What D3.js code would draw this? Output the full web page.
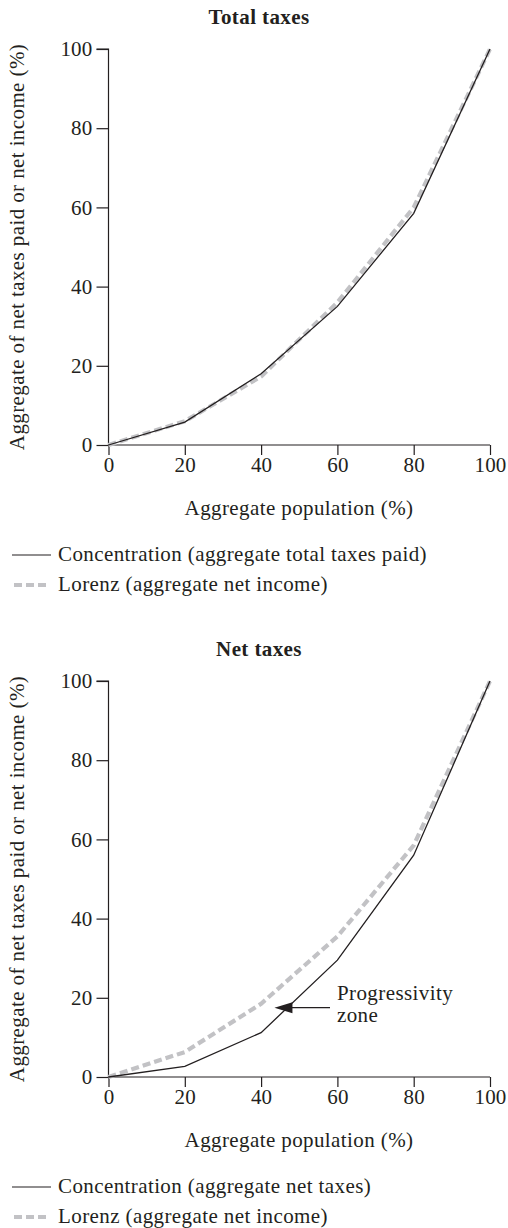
<!DOCTYPE html>
<html>
<head>
<meta charset="utf-8">
<script src="https://cdn.jsdelivr.net/npm/d3@7/dist/d3.min.js"></script>
<style>
  html, body { margin: 0; padding: 0; background: #fff; }
</style>
</head>
<body>
<svg id="chart" width="508" height="1228"></svg>
<script>
// ---- data ----
const population = [0, 20, 40, 60, 80, 100];
const totalConcentration = [0, 5.8, 18, 35, 58.5, 100];
const totalLorenz = [0, 6, 17.3, 36, 60, 100];
const netConcentration = [0, 2.7, 11.2, 29.5, 56, 100];
const netLorenz = [0, 6.3, 18.5, 35.5, 58.5, 100];
const xTicks = [0, 20, 40, 60, 80, 100];
const yTicks = [0, 20, 40, 60, 80, 100];
const panelTitles = ["Total taxes", "Net taxes"];
const concentrationLabels = ["Concentration (aggregate total taxes paid)", "Concentration (aggregate net taxes)"];
const lorenzLabel = "Lorenz (aggregate net income)";
const xLabel = "Aggregate population (%)";
const yLabel = "Aggregate of net taxes paid or net income (%)";
const annotation = ["Progressivity", "zone"];

const FONT = "'Liberation Serif', 'Times New Roman', Tinos, 'DejaVu Serif', serif";
const svg = d3.select("#chart").style("font-family", FONT);
const ink = "#231f20";
const dashGrey = "#c2c2c5";
const FS = 21;

const panels = [
  { offset: 0, conc: totalConcentration, lor: totalLorenz },
  { offset: 632, conc: netConcentration, lor: netLorenz }
];

const x = d3.scaleLinear().domain([0, 100]).range([108.5, 490]);
const yBase = d3.scaleLinear().domain([0, 100]).range([445, 49]);

function txt(sel) { return sel.style("font-family", FONT).attr("fill", ink).style("letter-spacing", "0.4px"); }

panels.forEach((p, i) => {
  const g = svg.append("g").attr("transform", `translate(0,${p.offset})`);
  const y = yBase;

  txt(g.append("text")).attr("x", 259).attr("y", 24)
    .attr("text-anchor", "middle").attr("font-weight", "bold").attr("font-size", 21)
    .text(panelTitles[i]);

  const xAxis = d3.axisBottom(x).tickValues(xTicks).tickSize(10).tickPadding(2).tickFormat(d3.format("d"));
  const yAxis = d3.axisLeft(y).tickValues(yTicks).tickSize(12).tickPadding(4).tickFormat(d3.format("d"));

  const gx = g.append("g").attr("transform", `translate(0,${y(0)})`).call(xAxis);
  const gy = g.append("g").attr("transform", `translate(${x(0)},0)`).call(yAxis);
  [gx, gy].forEach(a => {
    a.attr("font-family", null).attr("font-size", null);
    a.select(".domain").attr("stroke", ink).attr("stroke-width", 1.2);
    a.selectAll(".tick line").attr("stroke", ink).attr("stroke-width", 1.2);
    txt(a.selectAll(".tick text")).attr("font-size", FS).style("letter-spacing", "0.2px");
  });
  gy.select(".domain").attr("d", `M-12,${y(100)}H0V${y(0)}`);
  gx.select(".domain").attr("d", `M0,0H${x(100) - x(0)}`).attr("transform", `translate(${x(0)},0)`);

  txt(g.append("text")).attr("x", 299).attr("y", 515).attr("text-anchor", "middle")
    .attr("font-size", FS).text(xLabel);
  txt(g.append("text")).attr("transform", `translate(24,${(y(0) + y(100)) / 2}) rotate(-90)`)
    .attr("text-anchor", "middle").attr("font-size", FS).text(yLabel);

  const line = d3.line().x((d, j) => x(population[j])).y(d => y(d));
  g.append("path").datum(p.lor).attr("d", line).attr("fill", "none")
    .attr("stroke", dashGrey).attr("stroke-width", 4.2).attr("stroke-dasharray", "8,4");
  g.append("path").datum(p.conc).attr("d", line).attr("fill", "none")
    .attr("stroke", ink).attr("stroke-width", 1.3);

  g.append("line").attr("x1", 12).attr("x2", 51).attr("y1", 555).attr("y2", 555)
    .attr("stroke", ink).attr("stroke-width", 1.2);
  txt(g.append("text")).attr("x", 58).attr("y", 561).attr("font-size", FS).text(concentrationLabels[i]);
  g.append("line").attr("x1", 14).attr("x2", 50).attr("y1", 585).attr("y2", 585)
    .attr("stroke", dashGrey).attr("stroke-width", 4.2).attr("stroke-dasharray", "8,4");
  txt(g.append("text")).attr("x", 58).attr("y", 591).attr("font-size", FS).text(lorenzLabel);

  if (i === 1) {
    const tipX = x(43.5), tipY = y(17.5);
    g.append("line").attr("x1", tipX + 14).attr("x2", 330).attr("y1", tipY).attr("y2", tipY)
      .attr("stroke", ink).attr("stroke-width", 1.2);
    g.append("path")
      .attr("d", `M${tipX},${tipY}L${tipX + 18},${tipY - 5.5}L${tipX + 18},${tipY + 5.5}Z`)
      .attr("fill", ink);
    txt(g.append("text")).attr("x", 337).attr("y", y(19.5)).attr("font-size", FS).text(annotation[0]);
    txt(g.append("text")).attr("x", 337).attr("y", y(13.8)).attr("font-size", FS).text(annotation[1]);
  }
});
</script>
</body>
</html>
